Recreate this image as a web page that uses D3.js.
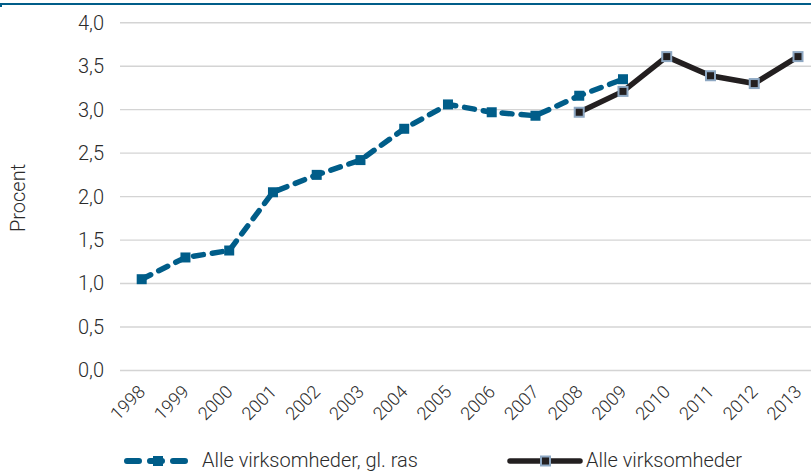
<!DOCTYPE html>
<html>
<head>
<meta charset="utf-8">
<script src="https://cdn.jsdelivr.net/npm/d3@7/dist/d3.min.js"></script>
<style>
  html, body { margin: 0; padding: 0; background: #fff; }
  svg { display: block; }
  text { font-family: Roboto, "Noto Sans", sans-serif; font-weight: 300; fill: #2b2b2b; }
</style>
</head>
<body>
<svg id="chart" width="811" height="472"></svg>
<script>
const years = ["1998","1999","2000","2001","2002","2003","2004","2005","2006","2007","2008","2009","2010","2011","2012","2013"];
// Old register basis ("gl. ras"), 1998-2009
const oldYears = ["1998","1999","2000","2001","2002","2003","2004","2005","2006","2007","2008","2009"];
const oldValues = [1.05, 1.30, 1.38, 2.05, 2.25, 2.42, 2.78, 3.06, 2.97, 2.93, 3.16, 3.35];
// Current basis, 2008-2013
const newYears = ["2008","2009","2010","2011","2012","2013"];
const newValues = [2.97, 3.21, 3.61, 3.39, 3.30, 3.61];
const yTicks = [0, 0.5, 1.0, 1.5, 2.0, 2.5, 3.0, 3.5, 4.0];
const seriesNames = ["Alle virksomheder, gl. ras", "Alle virksomheder"];

const blue = "#005d89";
const black = "#231f20";
const markerEdge = "#8ea8c3";

const svg = d3.select("#chart");

// header rule
svg.append("line").attr("x1", 0).attr("x2", 811).attr("y1", 4).attr("y2", 4)
  .attr("stroke", blue).attr("stroke-width", 2.2);
svg.append("rect").attr("x", 0).attr("y", 3).attr("width", 2).attr("height", 4).attr("fill", blue);

const x = d3.scalePoint().domain(years).range([141.7, 798]);
const y = d3.scaleLinear().domain([0, 4]).range([370.5, 22.7]);

// gridlines
svg.append("g").selectAll("line").data(yTicks).join("line")
  .attr("x1", 120).attr("x2", 811)
  .attr("y1", d => y(d)).attr("y2", d => y(d))
  .attr("stroke", "#d4d4d4").attr("stroke-width", 1.4);

// y axis labels
const fmt = d => d.toFixed(1).replace(".", ",");
const yAxis = d3.axisLeft(y).tickValues(yTicks).tickFormat(fmt).tickSize(0).tickPadding(0);
const gy = svg.append("g").attr("transform", "translate(104,0)").call(yAxis);
gy.select(".domain").remove();
gy.selectAll("text").attr("font-size", 20).attr("fill", "#2b2b2b")
  .style("font-family", "Roboto, sans-serif").style("font-weight", 300);

// x axis labels, rotated
const xAxis = d3.axisBottom(x).tickSize(0).tickPadding(0);
const gx = svg.append("g").call(xAxis);
gx.select(".domain").remove();
gx.selectAll(".tick text")
  .attr("text-anchor", "end")
  .attr("dy", "0")
  .attr("y", 0)
  .attr("transform", "translate(4,393) rotate(-45)")
  .attr("font-size", 18).attr("fill", "#2b2b2b")
  .style("font-family", "Roboto, sans-serif").style("font-weight", 300);

// y title
svg.append("text").attr("transform", "translate(25,198) rotate(-90)")
  .attr("text-anchor", "middle").attr("font-size", 20).text("Procent");

const line = d3.line().x(d => x(d[0])).y(d => y(d[1]));
const oldData = oldYears.map((yr, i) => [yr, oldValues[i]]);
const newData = newYears.map((yr, i) => [yr, newValues[i]]);

// old basis: dashed blue
svg.append("path").datum(oldData).attr("d", line)
  .attr("fill", "none").attr("stroke", blue).attr("stroke-width", 5.5)
  .attr("stroke-dasharray", "10 9").attr("stroke-linecap", "round").attr("stroke-linejoin", "round");
svg.append("g").selectAll("rect").data(oldData).join("rect")
  .attr("x", d => x(d[0]) - 5).attr("y", d => y(d[1]) - 5)
  .attr("width", 10).attr("height", 10).attr("fill", blue);

// current basis: solid black
svg.append("path").datum(newData).attr("d", line)
  .attr("fill", "none").attr("stroke", black).attr("stroke-width", 5.5)
  .attr("stroke-linejoin", "round");
svg.append("g").selectAll("rect").data(newData).join("rect")
  .attr("x", d => x(d[0]) - 4.5).attr("y", d => y(d[1]) - 4.5)
  .attr("width", 9).attr("height", 9).attr("fill", black)
  .attr("stroke", markerEdge).attr("stroke-width", 2);

// legend
const lg = svg.append("g");
lg.append("line").attr("x1", 127).attr("x2", 186).attr("y1", 461).attr("y2", 461)
  .attr("stroke", blue).attr("stroke-width", 6).attr("stroke-dasharray", "12 11")
  .attr("stroke-linecap", "round");
lg.append("rect").attr("x", 153).attr("y", 456).attr("width", 10).attr("height", 10).attr("fill", blue);
lg.append("text").attr("x", 202).attr("y", 467).attr("font-size", 20).text(seriesNames[0]);

lg.append("line").attr("x1", 510).attr("x2", 580).attr("y1", 461).attr("y2", 461)
  .attr("stroke", black).attr("stroke-width", 5.5).attr("stroke-linecap", "round");
lg.append("rect").attr("x", 541).attr("y", 456.5).attr("width", 9).attr("height", 9)
  .attr("fill", black).attr("stroke", markerEdge).attr("stroke-width", 2);
lg.append("text").attr("x", 586).attr("y", 467).attr("font-size", 20).text(seriesNames[1]);
</script>
</body>
</html>
